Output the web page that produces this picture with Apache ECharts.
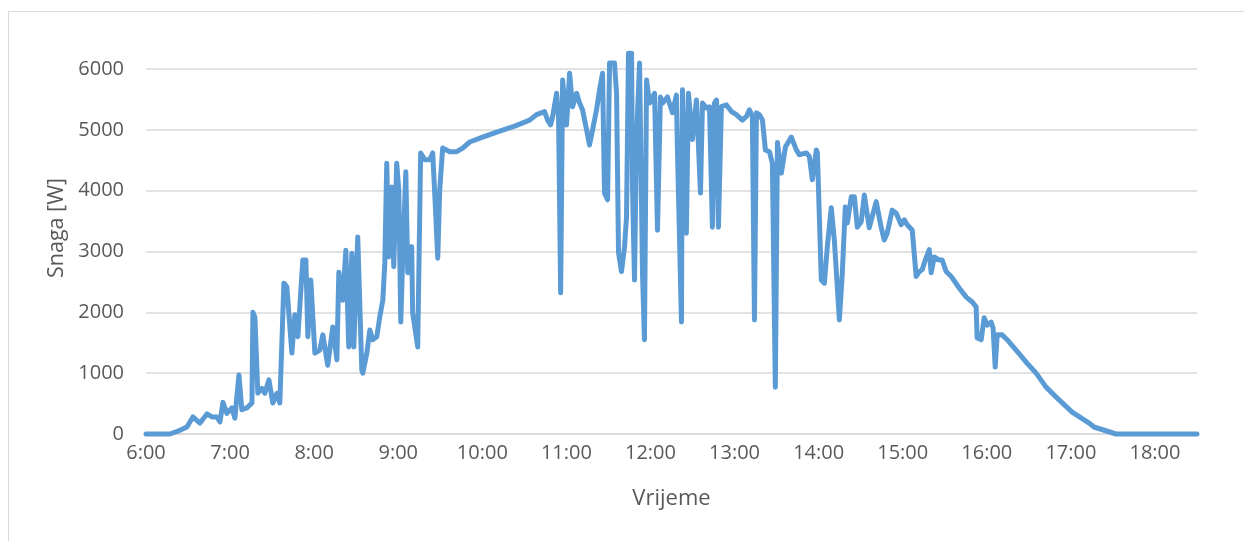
<!DOCTYPE html>
<html>
<head>
<meta charset="utf-8">
<script src="https://cdn.jsdelivr.net/npm/echarts@6/dist/echarts.min.js"></script>
<style>html,body{margin:0;padding:0;background:#fff}#c{width:1244px;height:541px}</style>
</head>
<body>
<div id="c"></div>
<script>
// Time of each sample, minutes after midnight
const timeMin = [
360,377.1,384.2,389.2,393.5,398.5,403.5,407.1,410.6,412.8,414.9,417.7,421.3,423.4,426.3,428.4,432.0,435.6,436.3,437.7,
439.8,442.7,444.8,447.7,450.5,453.4,455.5,458.4,460.5,464.1,466.2,468.4,471.9,474.1,475.5,477.6,480.5,484.0,486.2,489.7,
493.3,496.2,497.6,500.4,502.6,504.7,506.9,508.3,511.1,514.0,514.7,517.6,519.7,521.8,524.7,526.8,529.0,530.4,531.8,533.2,
535.4,536.8,538.9,540.4,541.8,543.2,545.4,546.8,549.6,550.3,553.9,556.0,558.9,562.5,564.6,566.7,568.2,569.6,571.7,576.7,
581.7,586.0,591.0,600.2,612.4,623.1,633.8,638.7,644.4,646.6,648.7,650.2,653.0,654.4,655.9,657.3,660.1,662.3,664.4,667.3,
669.4,671.5,674.4,676.5,678.7,681.5,683.7,685.8,687.2,689.4,690.8,694.3,695.8,697.2,699.3,701.5,702.9,704.3,706.5,707.2,
708.6,710.0,712.2,714.3,715.7,717.2,719.3,722.9,725.0,727.1,728.6,732.1,735.7,738.5,739.2,742.1,742.8,745.6,747.1,749.9,
752.8,755.7,757.1,759.9,762.1,764.2,765.6,767.1,768.5,770.6,774.2,777.8,781.3,785.6,788.5,790.6,792.7,794.2,795.6,797.7,
799.9,802.0,804.9,807.0,809.1,810.6,813.4,816.3,820.5,824.1,826.2,831.2,833.4,835.5,838.4,839.1,841.9,844.1,846.2,849.0,
851.2,854.8,856.9,859.0,860.5,863.3,865.5,867.6,870.4,872.6,876.1,881.1,884.6,886.8,888.9,892.5,895.4,898.9,901.1,903.2,
906.8,909.6,911.8,913.9,916.1,918.9,920.3,922.5,926.0,928.2,931.0,934.6,940.3,945.3,949.6,952.4,953.1,956.0,958.1,960.3,
963.1,964.5,966.0,967.4,970.9,974.5,980.9,988.1,995.2,1002.3,1011.6,1020.9,1033.0,1036.5,1052.2,1110
];
// Power [W]
const power = [
0,0,60,115,280,180,330,280,280,200,520,340,430,260,970,400,430,510,2000,1920,
670,750,670,890,510,670,510,2480,2420,1330,1960,1600,2860,2860,1600,2530,1330,1380,1630,1130,
1760,1220,2660,2200,3020,1430,2970,1430,3240,1050,1000,1330,1710,1550,1600,1920,2200,2800,4450,2910,
4060,2750,4450,4010,1840,2910,4310,2650,3080,1990,1430,4620,4510,4510,4620,3640,2890,4010,4700,4640,
4640,4700,4800,4880,4980,5060,5160,5250,5300,5160,5080,5220,5600,5220,2320,5820,5080,5930,5380,5600,
5440,5330,5000,4750,5000,5330,5660,5930,3960,3850,6100,6100,5600,2980,2670,3080,3570,6260,6260,4010,
2530,4840,6100,2650,1550,5820,5440,5600,3350,5540,5440,5540,5280,5570,4720,1840,5660,3300,5600,4840,
5490,3960,5440,5360,5380,3400,5440,5490,3400,5380,5410,5300,5250,5160,5220,5330,5220,1875,5280,5250,
5160,4670,4640,4450,770,4790,4290,4720,4880,4670,4590,4620,4560,4180,4670,4620,2530,2480,3080,3720,
3190,1875,2650,3730,3470,3900,3900,3400,3490,3930,3390,3820,3400,3190,3300,3680,3630,3440,3520,3440,
3350,2590,2670,2700,2860,3030,2650,2910,2860,2860,2670,2590,2400,2250,2170,2090,1580,1550,1910,1790,
1840,1740,1100,1630,1630,1550,1380,1180,1000,770,560,360,180,115,0,0
];
const yTicks = [0,1000,2000,3000,4000,5000,6000];
const xTickHours = [6,7,8,9,10,11,12,13,14,15,16,17,18];

const data = timeMin.map((t,i)=>[t, power[i]]);
const chart = echarts.init(document.getElementById('c'), null, {renderer:'canvas'});
const font = '"Open Sans", sans-serif';
chart.setOption({
  animation:false,
  backgroundColor:'#ffffff',
  grid:{left:146,right:47,top:69,bottom:107,containLabel:false},
  xAxis:{
    type:'value', min:360, max:1110, interval:60,
    name:'Vrijeme', nameLocation:'middle', nameGap:54,
    nameTextStyle:{color:'#595959',fontSize:22,fontFamily:font},
    axisLine:{show:true,lineStyle:{color:'#d9d9d9',width:1.5}},
    axisTick:{show:false},
    splitLine:{show:false},
    axisLabel:{color:'#595959',fontSize:20,fontFamily:font,margin:9,
      formatter:v=> (v%60===0 && xTickHours.includes(v/60)) ? (v/60)+':00' : ''}
  },
  yAxis:{
    type:'value', min:0, max:6000, interval:1000,
    axisLine:{show:false}, axisTick:{show:false},
    splitLine:{show:true,lineStyle:{color:'#d9d9d9',width:1.5}},
    axisLabel:{color:'#595959',fontSize:20,fontFamily:font,margin:22,
      formatter:v=> yTicks.includes(v) ? String(v) : ''}
  },
  graphic:[
    {type:'rect',shape:{x:8.5,y:11.5,width:1400,height:700},style:{fill:'none',stroke:'#d9d9d9',lineWidth:1}},
    {type:'text',x:57,y:228,rotation:Math.PI/2,
      style:{text:'Snaga [W]',fill:'#595959',font:'21.5px "Open Sans", sans-serif',align:'center',verticalAlign:'middle'}}
  ],
  series:[{
    type:'line', data:data, showSymbol:false, clip:false,
    lineStyle:{color:'#5b9bd5',width:5,join:'round',cap:'round'},
    itemStyle:{color:'#5b9bd5'}
  }]
});
</script>
</body>
</html>
